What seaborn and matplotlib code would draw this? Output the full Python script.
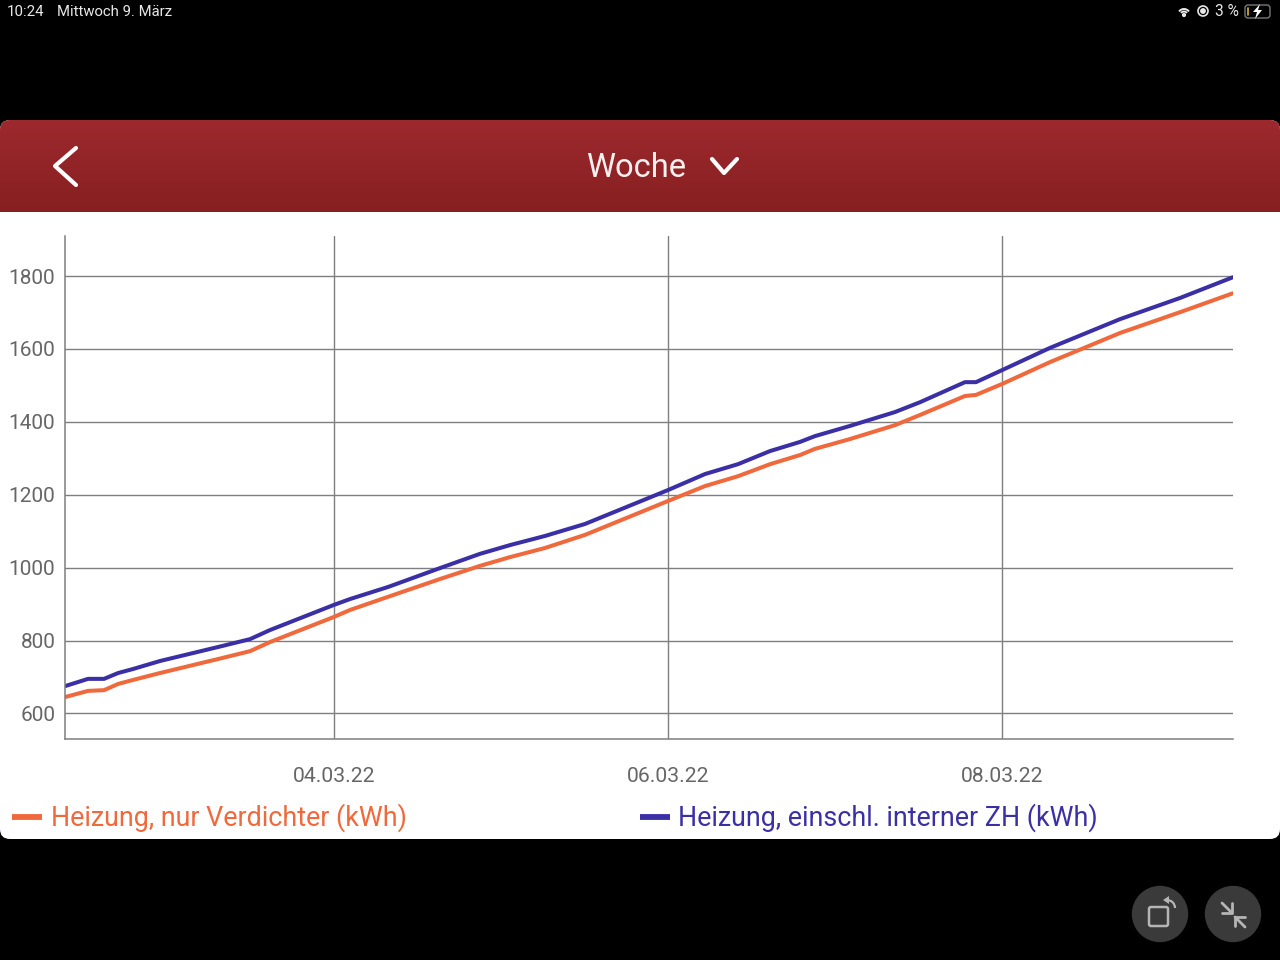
import numpy as np
import pandas as pd
import matplotlib
matplotlib.use("Agg")
import matplotlib.pyplot as plt
import seaborn as sns
from matplotlib.lines import Line2D
from matplotlib.patches import Arc, Circle, FancyBboxPatch, Polygon

# tage = Tag im Maerz 2022 (3.5 = 03.03. 12 Uhr)
tage = [2.389, 2.527, 2.623, 2.707, 2.796, 2.958, 3.329, 3.497, 3.617, 4.0, 4.096,
        4.323, 4.635, 4.874, 5.054, 5.263, 5.503, 6.0, 6.222, 6.419, 6.611, 6.790,
        6.880, 7.090, 7.359, 7.509, 7.778, 7.844, 8.0, 8.287, 8.707, 9.066, 9.383]
verdichter = [645, 662, 664, 681, 692, 711, 752, 771, 796, 865, 884,
              920, 969, 1005, 1029, 1054, 1090, 1183, 1224, 1251, 1284, 1309,
              1326, 1353, 1391, 1419, 1471, 1474, 1504, 1564, 1644, 1701, 1753]
einschl_zh = [675, 695, 695, 711, 722, 744, 785, 804, 829, 898, 914,
              947, 999, 1038, 1062, 1087, 1120, 1213, 1257, 1284, 1320, 1345,
              1361, 1389, 1427, 1454, 1509, 1509, 1542, 1603, 1682, 1740, 1797]

y_ticks = [600, 800, 1000, 1200, 1400, 1600, 1800]
x_ticks = [4, 6, 8]
x_labels = ["04.03.22", "06.03.22", "08.03.22"]
namen = ["Heizung, nur Verdichter (kWh)", "Heizung, einschl. interner ZH (kWh)"]
farben = ["#F0693C", "#3B2FA6"]

df = pd.DataFrame({"tag": tage, namen[0]: verdichter, namen[1]: einschl_zh})
df = df.melt(id_vars="tag", var_name="serie", value_name="kwh")

sns.set_theme(style="white")
plt.rcParams["font.family"] = ["Roboto", "DejaVu Sans"]

fig = plt.figure(figsize=(12.8, 9.6), dpi=100, facecolor="black")

# Hintergrund in Pixelkoordinaten (Tablet-Oberflaeche)
bg = fig.add_axes([0, 0, 1, 1], zorder=0)
bg.set_xlim(0, 1280)
bg.set_ylim(960, 0)
bg.axis("off")

panel = FancyBboxPatch((0, 120), 1280, 719, boxstyle="round,pad=0,rounding_size=10",
                       fc="white", ec="none")
bg.add_patch(panel)
verlauf = np.linspace(0, 1, 92).reshape(-1, 1)
cmap = matplotlib.colors.LinearSegmentedColormap.from_list("rot", ["#9C292D", "#871F20"])
im = bg.imshow(verlauf, extent=(0, 1280, 212, 120), cmap=cmap, aspect="auto", zorder=1)
im.set_clip_path(panel)
bg.set_xlim(0, 1280)
bg.set_ylim(960, 0)

# Kopfzeile
bg.plot([76, 55, 76], [148, 166, 185], color="white", lw=3, zorder=2)
bg.plot([712, 724, 737], [159, 173, 159], color="white", lw=3, zorder=2)
bg.text(636, 168, "Woche", color="#FBF0F0", fontsize=23.5, ha="center", va="center", zorder=2)

# Statusleiste
bg.text(7, 12, "10:24", color="#E8E8E8", fontsize=10.8, va="center")
bg.text(57, 12, "Mittwoch 9. März", color="#E8E8E8", fontsize=10.7, va="center")
bg.text(1215, 12, "3 %", color="#E8E8E8", fontsize=11.2, va="center")
for d in [12, 7]:
    bg.add_patch(Arc((1184, 15), d, d, theta1=215, theta2=325, color="#E8E8E8", lw=1.4))
bg.add_patch(Circle((1184, 15), 1.4, color="#E8E8E8"))
bg.add_patch(Circle((1203, 11), 5, fc="none", ec="#E8E8E8", lw=1.2))
bg.add_patch(Circle((1203, 11), 2.2, color="#E8E8E8"))
bg.add_patch(FancyBboxPatch((1245, 5), 25, 13, boxstyle="round,pad=0,rounding_size=3",
                            fc="none", ec="#777777", lw=1))
bg.plot([1247.5, 1247.5], [8, 15], color="#D9B43A", lw=1.2)
bg.add_patch(Polygon([[1260, 4], [1253, 12], [1257, 12], [1255, 19], [1262, 10], [1258, 10]],
                     fc="white", ec="none"))

# Schaltflaechen unten rechts
for cx in [1160, 1233]:
    bg.add_patch(Circle((cx, 914), 27.5, color="#3A3A3A"))
bg.add_patch(FancyBboxPatch((1149, 907), 19, 19, boxstyle="round,pad=0,rounding_size=2",
                            fc="none", ec="#B5B5B5", lw=1.8))
bg.add_patch(Arc((1167, 908), 16, 16, theta1=270, theta2=360, color="#B5B5B5", lw=1.6))
bg.add_patch(Polygon([[1163, 900], [1169, 896], [1169, 904]], fc="#B5B5B5", ec="none"))
bg.plot([1222, 1232], [903, 913], color="#B5B5B5", lw=2)
bg.plot([1232, 1232, 1222], [903, 913, 913], color="#B5B5B5", lw=2)
bg.plot([1235, 1245], [917, 927], color="#B5B5B5", lw=2)
bg.plot([1235, 1235, 1245], [926, 917, 917], color="#B5B5B5", lw=2)

# Diagramm
ax = fig.add_axes([65 / 1280, (960 - 739) / 960, 1168 / 1280, 503 / 960], zorder=1)
ax.patch.set_alpha(0)
ax.set_axisbelow(True)
ax.grid(True, color="#7F7F7F", lw=1.0)
sns.lineplot(data=df, x="tag", y="kwh", hue="serie", palette=farben, hue_order=namen,
             lw=2.9, legend=False, ax=ax)
ax.set_xlim(2.389, 9.383)
ax.set_ylim(530, 1910)
ax.set_xticks(x_ticks, x_labels)
ax.set_yticks(y_ticks)
ax.set_xlabel("")
ax.set_ylabel("")
ax.tick_params(axis="x", length=0, pad=20, labelsize=15.2, labelcolor="#666666")
ax.tick_params(axis="y", length=0, pad=7, labelsize=15, labelcolor="#666666")
for s in ["top", "right"]:
    ax.spines[s].set_visible(False)
for s in ["left", "bottom"]:
    ax.spines[s].set_color("#7F7F7F")
    ax.spines[s].set_linewidth(1.1)

griffe = [Line2D([], [], color=f, lw=4.2, solid_capstyle="butt") for f in farben]
fig.legend(griffe, namen, ncol=2, loc="center left", bbox_to_anchor=(12 / 1280, (960 - 818) / 960),
           frameon=False, fontsize=19.4, labelcolor=farben, handlelength=1.13, handletextpad=0.3,
           columnspacing=8.65, borderpad=0, borderaxespad=0)

fig.savefig("out.png", dpi=100, facecolor="black")
plt.close(fig)
